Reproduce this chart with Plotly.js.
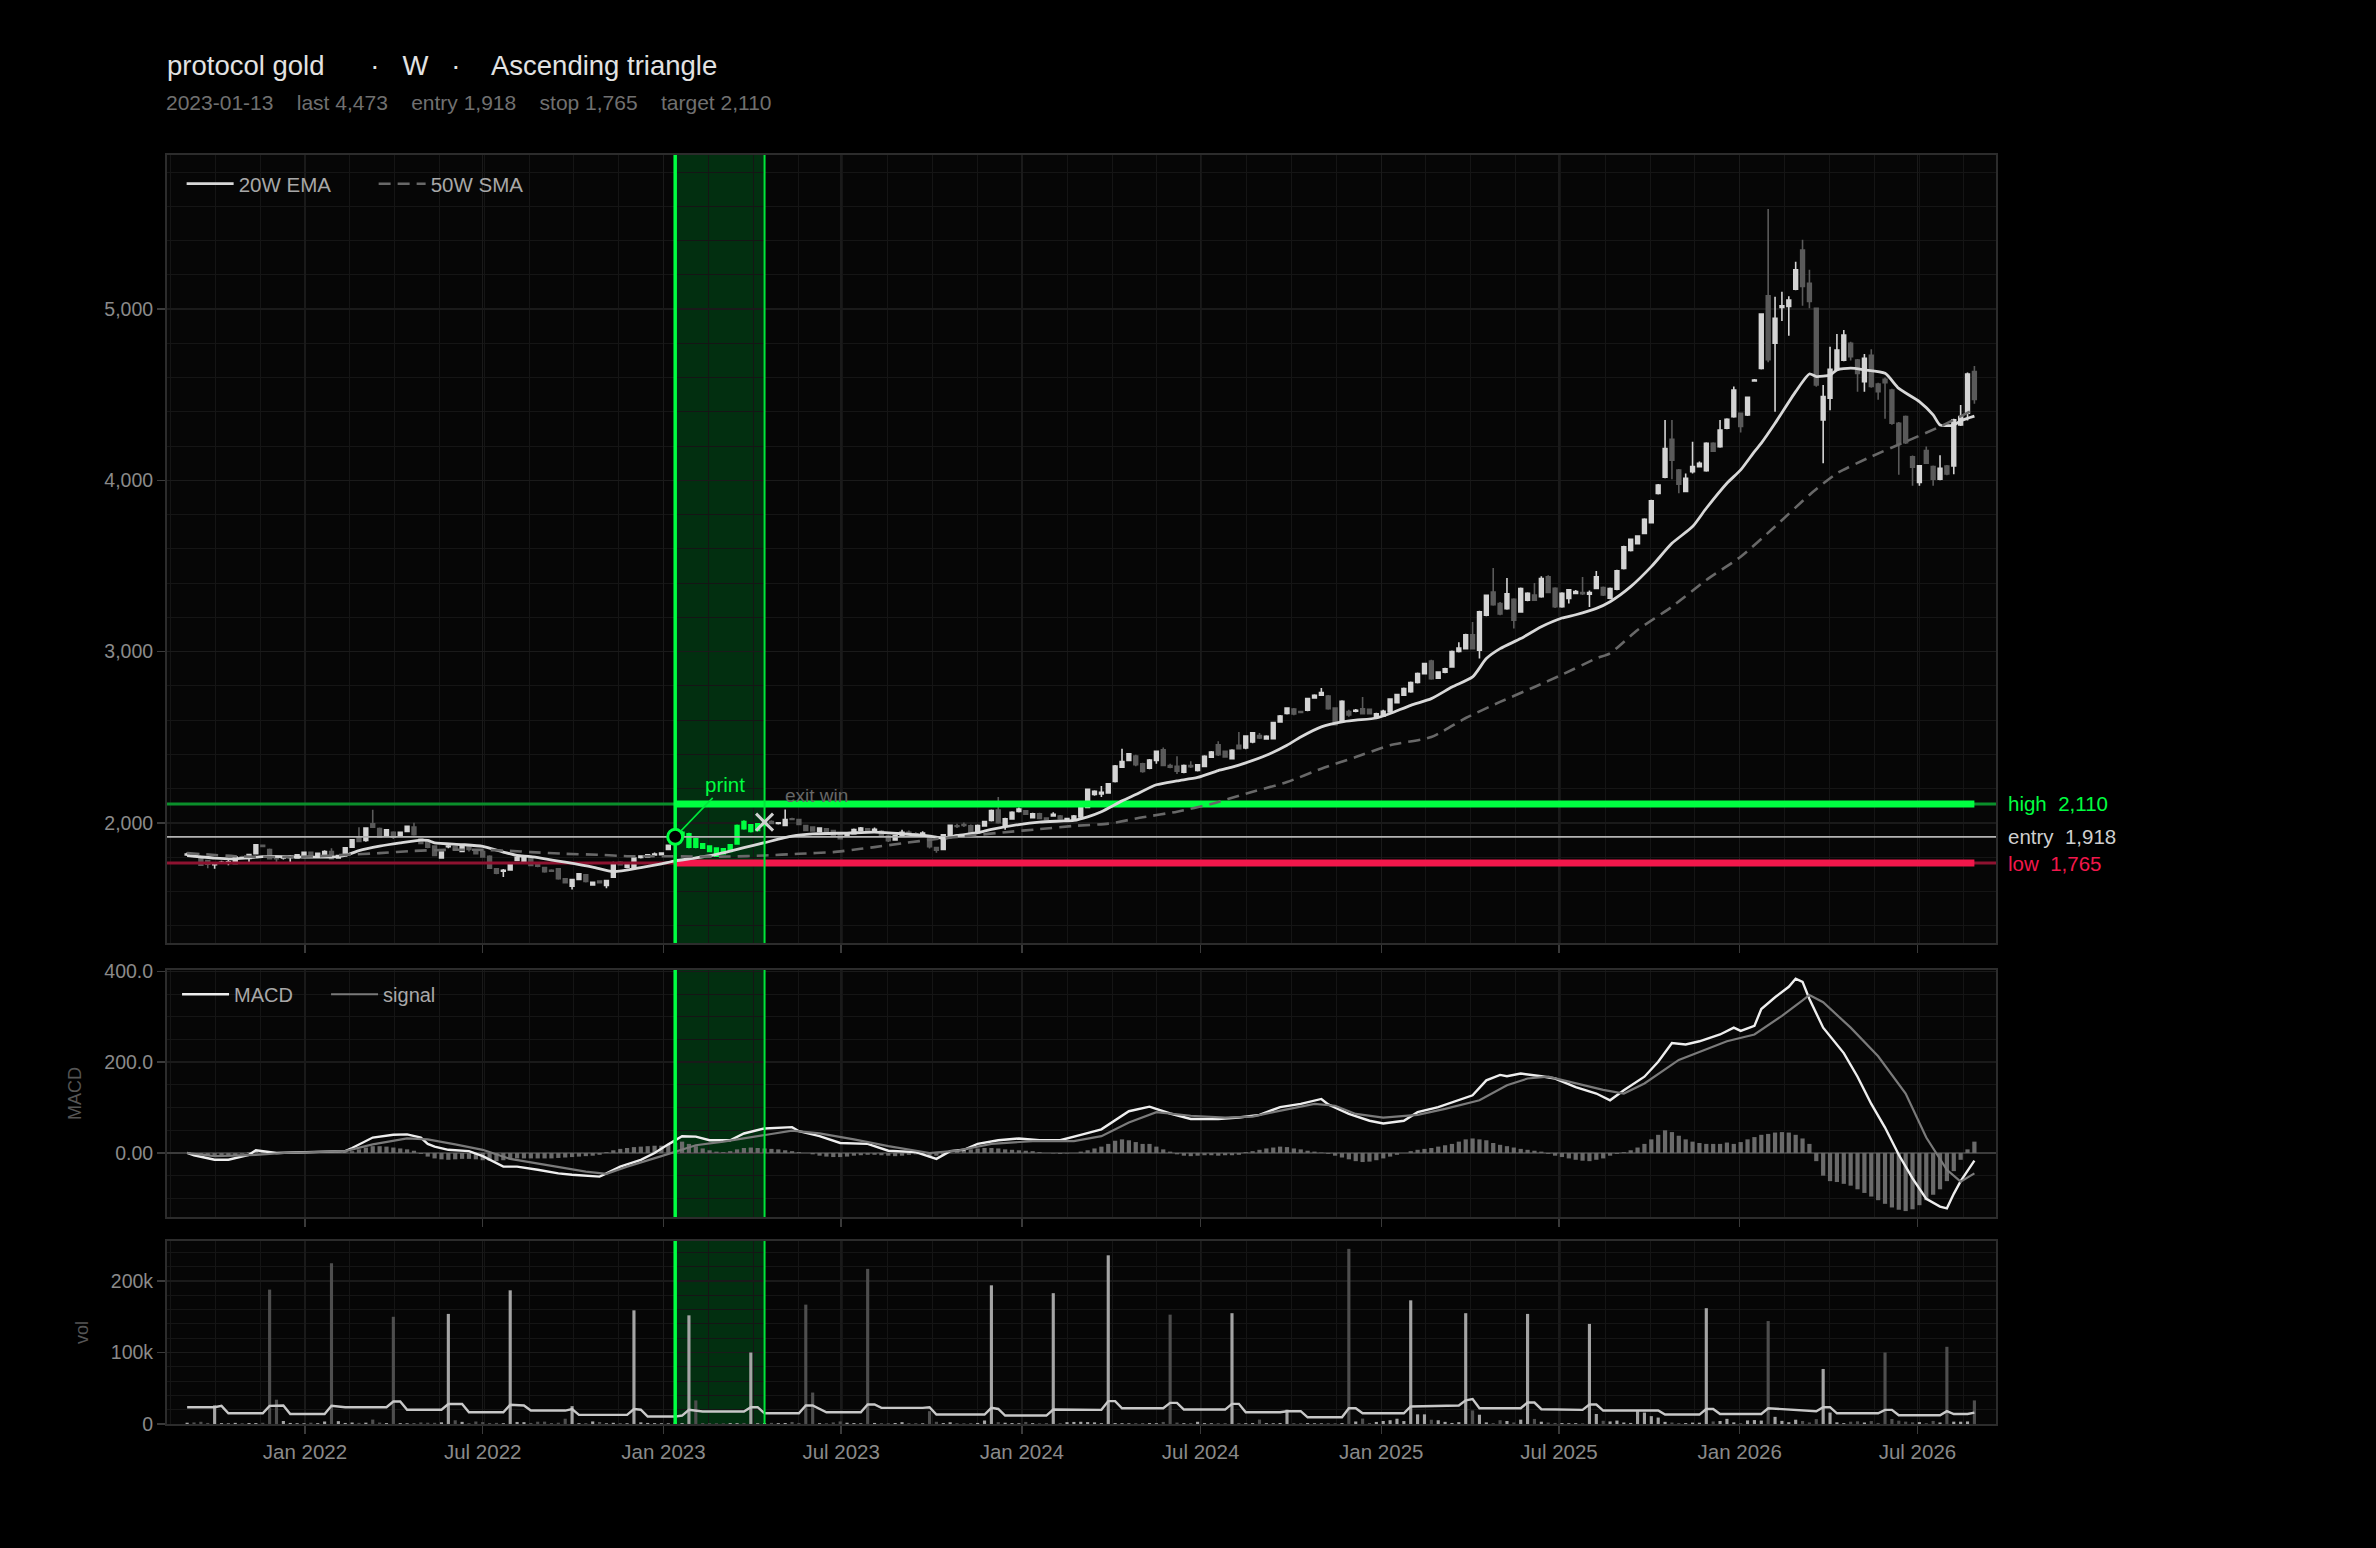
<!DOCTYPE html>
<html>
<head>
<meta charset="utf-8">
<script src="https://cdn.plot.ly/plotly-3.0.1.min.js"></script>
<style>html,body{margin:0;padding:0;background:#000;}#chart{width:2376px;height:1548px;}</style>
</head>
<body>
<div id="chart"></div>
<script>
// ---------------- DATA ----------------
const firstWeek = '2021-09-03';
const printDate = '2023-01-13';
const exitDate = '2023-04-14';
const entryPrice = 1918, stopPrice = 1765, targetPrice = 2110, exitPrice = 2004;
const symbolName = 'protocol gold', timeframe = 'W', patternName = 'Ascending triangle';

const openP = [
1812,1812,1792,1780,1755,1764,1765,1762,1802,1792,
1819,1868,1844,1803,1794,1797,1795,1809,1828,1805,
1815,1832,1794,1813,1858,1916,1897,1994,1967,1922,
1945,1922,1949,1975,1906,1887,1864,1795,1860,1862,
1832,1870,1838,1832,1805,1731,1718,1725,1780,1774,
1796,1762,1738,1722,1731,1673,1630,1669,1696,1637,
1660,1634,1683,1770,1741,1741,1798,1800,1812,1813,
1844,1895,1925,1858,1907,1877,1864,1852,1848,1833,
1877,2007,1949,1955,1984,2008,1996,1984,2023,2019,
1984,1975,1950,1965,1955,1930,1922,1936,1955,1965,
1950,1950,1922,1900,1928,1945,1936,1925,1925,1855,
1845,1925,1982,1990,1982,1942,1982,2013,2075,1984,
2023,2066,2070,2030,2052,2028,2040,2040,2015,2020,
2034,2090,2165,2168,2175,2241,2325,2364,2390,2345,
2319,2364,2426,2335,2330,2296,2335,2305,2329,2383,
2455,2418,2375,2453,2437,2472,2510,2490,2491,2589,
2638,2665,2650,2658,2729,2745,2740,2670,2593,2650,
2652,2666,2663,2618,2624,2648,2702,2745,2765,2819,
2871,2945,2845,2880,2910,3000,3017,3098,3008,3212,
3348,3280,3250,3305,3232,3300,3330,3320,3436,3370,
3262,3310,3340,3345,3335,3369,3374,3312,3364,3486,
3590,3630,3690,3753,3924,4018,4240,4060,3935,4051,
4080,4056,4216,4196,4304,4372,4391,4382,4580,4654,
5077,4801,5010,5015,5116,5345,5151,5005,4353,4479,
4648,4702,4800,4702,4576,4730,4563,4590,4528,4333,
4372,4138,3987,4174,4080,4006,4084,4084,4324,4392,
4635];
const highP = [
1826,1815,1796,1784,1766,1778,1790,1802,1808,1818,
1874,1872,1850,1806,1804,1812,1816,1832,1832,1826,
1840,1852,1812,1858,1904,1974,1972,2076,1972,1962,
1950,1948,1984,2000,1912,1892,1868,1833,1870,1866,
1874,1874,1842,1836,1810,1735,1730,1768,1805,1806,
1800,1766,1742,1728,1735,1676,1673,1706,1700,1657,
1664,1666,1772,1775,1760,1798,1810,1818,1826,1828,
1872,1935,1952,1942,1912,1882,1868,1856,1852,1876,
1990,2015,1992,1998,2018,2015,2004,2078,2030,2024,
1988,1980,1973,1970,1960,1934,1946,1966,1975,1970,
1972,1958,1930,1930,1960,1955,1945,1950,1930,1860,
1935,1990,1995,2002,1990,1990,2012,2078,2150,2030,
2068,2090,2075,2058,2058,2032,2062,2045,2030,2045,
2090,2200,2190,2215,2232,2338,2432,2408,2398,2350,
2372,2420,2440,2345,2388,2340,2360,2342,2395,2420,
2476,2422,2430,2530,2512,2530,2525,2512,2590,2630,
2675,2670,2655,2730,2750,2787,2746,2675,2715,2660,
2665,2735,2668,2642,2660,2727,2754,2790,2825,2878,
2935,2952,2885,2906,3006,3055,3104,3172,3238,3334,
3488,3290,3430,3312,3374,3346,3400,3440,3445,3376,
3346,3366,3360,3435,3356,3470,3380,3374,3478,3618,
3660,3680,3778,3886,3978,4352,4352,4066,4040,4225,
4110,4222,4222,4352,4362,4548,4396,4490,4592,4976,
5585,5072,5102,5075,5277,5405,5230,5010,4557,4780,
4855,4878,4810,4708,4738,4765,4570,4600,4535,4340,
4378,4145,4090,4197,4086,4147,4090,4360,4440,4630,
4668];
const lowP = [
1806,1798,1748,1735,1731,1760,1752,1758,1792,1764,
1815,1858,1788,1762,1785,1770,1790,1805,1796,1800,
1812,1786,1790,1810,1855,1888,1890,1970,1912,1918,
1905,1918,1945,1925,1876,1852,1805,1790,1852,1838,
1828,1832,1815,1796,1730,1700,1683,1720,1776,1770,
1748,1740,1708,1712,1668,1645,1610,1665,1652,1632,
1645,1618,1678,1750,1735,1736,1792,1796,1808,1810,
1840,1880,1920,1852,1852,1848,1828,1800,1815,1828,
1872,1960,1944,1950,1980,1992,1990,1980,2016,1986,
1950,1948,1946,1940,1922,1902,1918,1932,1950,1945,
1945,1918,1888,1895,1920,1930,1920,1918,1850,1825,
1840,1920,1970,1975,1940,1938,1978,2008,1995,1960,
2018,2060,2045,2025,2020,2015,2035,2015,2008,2015,
2028,2085,2158,2150,2170,2236,2320,2360,2330,2292,
2312,2345,2330,2318,2285,2290,2320,2300,2325,2378,
2390,2380,2370,2428,2430,2465,2490,2485,2486,2584,
2632,2628,2640,2652,2724,2740,2660,2568,2588,2620,
2645,2632,2632,2612,2618,2643,2697,2740,2760,2814,
2866,2835,2840,2874,2905,2995,3012,3012,2960,3206,
3268,3212,3244,3134,3226,3294,3295,3314,3340,3255,
3256,3280,3335,3330,3260,3364,3325,3306,3358,3480,
3585,3625,3685,3748,3918,4012,4007,3925,3930,4040,
4075,4050,4165,4190,4298,4366,4280,4376,4576,4648,
4690,4400,4930,4845,5110,5020,5005,4547,4100,4410,
4640,4695,4700,4518,4518,4540,4470,4360,4325,4032,
4212,3968,3968,4095,3968,4000,4030,4036,4318,4350,
4447];
const closeP = [
1818,1803,1752,1758,1760,1770,1772,1800,1796,1815,
1871,1862,1790,1790,1800,1805,1813,1828,1800,1822,
1832,1790,1808,1854,1900,1891,1969,1975,1916,1959,
1916,1945,1979,1930,1880,1858,1809,1829,1864,1843,
1870,1845,1819,1800,1735,1706,1722,1764,1798,1803,
1751,1747,1714,1718,1673,1650,1669,1702,1657,1653,
1650,1663,1766,1755,1755,1794,1806,1813,1817,1823,
1868,1918,1945,1936,1858,1852,1833,1805,1819,1872,
1984,1965,1988,1994,2013,1996,2000,2019,2020,1990,
1955,1952,1969,1945,1926,1907,1941,1961,1969,1950,
1962,1925,1895,1925,1945,1938,1930,1940,1860,1840,
1930,1985,1978,1984,1945,1984,2008,2072,2000,2023,
2062,2080,2050,2052,2025,2020,2050,2022,2025,2040,
2087,2195,2184,2178,2228,2331,2358,2403,2339,2300,
2366,2417,2335,2325,2301,2335,2328,2338,2389,2413,
2398,2385,2423,2433,2507,2525,2495,2505,2585,2624,
2670,2636,2645,2725,2745,2760,2666,2573,2710,2630,
2657,2637,2637,2637,2651,2722,2749,2784,2819,2872,
2930,2842,2880,2900,3000,3020,3098,3017,3232,3328,
3274,3220,3338,3183,3368,3340,3300,3427,3345,3262,
3340,3360,3350,3338,3345,3437,3330,3368,3472,3612,
3655,3675,3772,3880,3973,4186,4118,3978,4012,4080,
4100,4216,4170,4293,4356,4528,4314,4485,4585,4971,
4704,4946,5020,5053,5229,5132,5044,4557,4489,4648,
4761,4848,4722,4624,4713,4548,4518,4570,4333,4216,
4220,4076,4085,4100,4006,4070,4037,4353,4372,4621,
4473];
const volume = [
1800,2200,3100,1500,26000,1200,900,1600,1100,1400,
1300,1700,188000,34000,4200,1500,1100,1000,1800,1200,
3500,225000,4000,1500,2100,1600,1900,6200,2000,1300,
150000,1200,1000,1400,2200,1800,1700,2400,154000,5200,
3000,1200,3500,2700,1300,1600,1100,187000,2900,2600,
1500,3200,3300,1400,1800,7400,25000,1200,1300,3600,
2800,1000,1700,1400,1100,159000,2300,1500,1200,1000,
900,2100,1300,152000,33000,1400,1200,1100,1000,1300,
1200,1500,100000,1100,1300,1600,1200,1400,2900,1500,
167000,44000,1200,1100,2300,3600,1800,1300,1000,217000,
1500,1200,1100,1400,2600,1300,1200,1000,18000,3100,
1300,2400,1200,1000,1300,1500,4900,194000,2600,1800,
1300,1100,2900,1200,1000,1300,183000,1200,2600,2900,
3100,2700,2300,1200,236000,1300,1100,1000,1200,1400,
1300,1100,2900,153000,2000,1100,1300,3100,1200,1000,
1200,1300,155000,1400,1100,1300,6200,1200,1000,1400,
20000,1200,1100,1300,1000,900,1200,1100,1300,245000,
3500,7600,1400,2900,4200,5300,7400,4100,173000,13500,
13500,6000,5200,3000,1500,2600,155000,19000,13000,2300,
1200,5300,4200,2200,6100,154000,7100,3200,2000,1500,
1300,1100,1200,1000,140000,14000,4500,3600,4800,2100,
1500,18000,16000,11000,9000,3000,2100,1400,1300,2000,
1800,162000,3600,4200,7200,2300,1200,5000,5500,4800,
144000,10000,4400,2500,6000,4200,2200,6800,77000,16000,
2400,1200,3200,3800,2100,4100,1500,100000,7000,4600,
3300,2400,2600,1200,4300,2200,108000,3300,3200,3600,
33000];
const macdHist = [
0,-3,-5,-7,-8,-8,-7,-5,-2,2,
5,5,3,1,0,0,0,0,0,0,
1,1,1,2,4,8,12,15,15,14,
12,10,8,5,-2,-8,-12,-14,-15,-14,
-13,-13,-14,-16,-17,-18,-16,-14,-12,-12,
-12,-12,-12,-12,-11,-10,-9,-8,-7,-6,
-4,2,6,9,11,13,14,15,16,16,
18,22,25,20,15,10,6,3,2,4,
8,11,12,11,10,9,8,6,4,2,
0,-3,-6,-8,-9,-9,-8,-6,-5,-4,
-4,-5,-6,-7,-6,-4,-3,-4,-8,-6,
-4,0,3,6,8,10,11,11,10,8,
7,6,5,4,2,0,-1,-2,-1,0,
3,6,10,14,20,27,30,28,24,20,
20,14,8,3,-3,-6,-7,-6,-5,-5,
-6,-5,-5,-4,2,4,7,10,12,14,
13,10,8,5,3,1,-2,-6,-10,-14,
-18,-20,-19,-16,-12,-8,-4,0,4,7,
9,11,14,17,20,25,30,32,30,28,
22,18,15,12,9,7,5,3,-2,-6,
-9,-12,-15,-17,-18,-15,-12,-6,-2,2,
6,12,20,30,40,50,46,38,30,25,
22,20,20,20,23,20,24,30,35,40,
42,45,46,45,40,32,20,-18,-50,-62,
-64,-68,-72,-80,-88,-96,-104,-112,-120,-125,
-128,-124,-115,-104,-92,-80,-62,-40,-15,8,
25];
// line series read at sampled weeks (week number since first candle, value)
const macdWeek = [0,1,4,6,9,10,13,17,20,23,24,27,30,32,34,35,36,38,41,43,46,48,51,54,56,58,60,61,63,66,68,70,72,74,76,79,81,84,86,88,89,92,95,99,102,106,109,111,113,115,118,121,124,127,130,133,137,140,143,146,150,153,156,159,162,165,166,169,172,174,177,179,182,185,187,189,191,192,194,197,199,202,205,207,209,212,214,216,218,220,223,225,226,228,229,231,233,234,235,236,238,241,243,245,247,249,251,253,255,256,257,258,259,260];
const macdLine = [0,-5,-15,-15,-4,6,0,2,4,4,11,34,40,41,34,20,14,7,4,-7,-30,-30,-37,-45,-48,-50,-52,-45,-30,-15,0,19,37,36,28,28,43,54,56,57,48,37,22,20,5,2,-13,4,7,20,28,32,28,28,40,52,92,102,87,75,75,78,84,101,108,119,107,86,71,65,71,90,101,116,127,160,172,169,175,169,164,145,131,116,138,168,201,242,239,246,261,276,269,280,317,343,366,384,377,339,276,220,168,108,56,-4,-56,-101,-118,-122,-90,-62,-40,-17];
const signalWeek = [0,4,10,14,23,27,32,35,39,43,47,52,58,61,64,69,74,78,83,88,92,97,102,108,112,117,123,129,133,137,141,146,151,155,158,164,167,170,174,179,183,188,192,195,198,202,206,209,212,217,221,224,228,232,235,236,238,242,246,250,253,256,258,260];
const signalLine = [0,-7,-4,0,4,19,32,30,19,7,-13,-26,-41,-46,-30,-7,17,25,37,49,43,30,15,0,5,20,26,26,37,67,90,82,78,80,90,108,104,86,78,84,97,116,149,164,168,154,139,131,153,205,228,246,261,302,336,348,332,276,213,131,34,-37,-63,-45];
const emaWeek = [0,4,7,11,14,17,21,23,25,28,31,34,35,36,40,43,46,48,50,55,59,62,66,69,71,74,77,79,81,84,88,91,96,100,104,108,110,112,115,117,121,124,127,129,131,133,136,138,141,144,147,150,152,154,157,160,162,165,168,170,173,175,178,181,184,187,189,191,194,197,200,202,205,207,210,213,216,219,221,224,226,228,229,231,234,236,237,239,240,242,244,247,249,252,254,255,257,258,260];
const emaLine = [1809,1794,1790,1803,1803,1800,1800,1809,1838,1864,1883,1899,1897,1883,1873,1862,1829,1809,1803,1770,1741,1714,1738,1760,1778,1795,1815,1834,1855,1884,1922,1935,1940,1945,1936,1922,1910,1926,1942,1961,1990,2004,2010,2014,2035,2065,2128,2165,2222,2245,2265,2305,2325,2350,2394,2453,2501,2560,2589,2599,2612,2638,2686,2725,2793,2852,2959,3017,3076,3145,3196,3215,3252,3291,3379,3496,3632,3730,3837,3983,4061,4168,4217,4333,4518,4621,4606,4615,4645,4655,4645,4625,4537,4460,4382,4323,4323,4348,4375];
const smaWeek = [0,7,14,18,23,28,33,38,43,47,50,55,60,64,69,74,79,84,89,94,98,100,104,109,114,119,124,129,134,139,144,149,154,160,165,170,175,181,186,191,196,200,205,207,211,216,221,226,231,236,240,245,250,255,260];
const smaLine = [1823,1805,1800,1803,1813,1823,1836,1842,1842,1836,1829,1819,1813,1805,1805,1803,1803,1809,1819,1829,1848,1858,1880,1905,1925,1945,1963,1982,1995,2032,2065,2110,2170,2238,2316,2384,2453,2501,2612,2706,2793,2865,2960,2990,3126,3262,3418,3554,3730,3915,4041,4139,4226,4314,4415];
const volMaWeek = [0,4,5,6,11,12,14,15,20,21,23,29,30,31,32,37,38,40,41,46,47,49,50,55,56,57,64,65,66,67,71,72,73,75,81,82,83,84,89,90,91,93,98,99,100,101,107,108,109,116,117,118,119,125,126,133,134,135,136,142,143,144,145,151,152,153,154,159,160,162,163,168,169,170,171,177,178,185,186,187,188,194,195,196,197,203,204,205,206,214,215,220,221,222,223,229,230,237,238,239,240,246,247,248,249,255,256,257,259,260];
const volMaLine = [23500,23500,25400,15000,15000,25400,25900,14000,14000,25400,23500,23500,31500,31500,20000,20000,28000,28000,16500,16500,26800,25900,18800,18800,21000,12700,12700,21000,20000,10400,10400,11800,19800,17400,17400,23500,23500,15000,15000,25900,25900,16500,16500,27300,27300,22600,22600,23500,13200,13200,22600,21000,11800,11800,20200,19800,32000,32000,22000,22000,29600,29600,20200,20200,28200,28200,16500,16500,17900,17900,9400,9400,22000,22000,15000,15000,24500,25900,33000,34800,22000,22000,30000,30000,20700,19800,27300,27300,18800,18800,13200,13200,21000,21000,14000,14000,22000,17900,23500,23500,15000,15000,19800,19800,12200,12200,17900,14000,14000,16000];
const macdTickVals = [0, 200, 400];
const macdTickText = ['0.00', '200.0', '400.0'];

// ---------------- BUILD ----------------
const DAY = 86400000;
const t0 = Date.parse(firstWeek + 'T00:00:00Z');
const dates = closeP.map((_, i) => new Date(t0 + i * 7 * DAY).toISOString().slice(0, 10));
const weekDates = arr => arr.map(i => dates[i]);
const lastDate = dates[dates.length - 1];
const lastClose = closeP[closeP.length - 1];
const fmt = v => v.toLocaleString('en-US');
const NB = '\u00a0';
const sp = k => NB.repeat(k);

const xRange = ['2021-08-13 12:00', '2026-09-19'];
const priceRange = [1298, 5900], macdRange = [-141, 403], volRange = [0, 256000];

const inBand = dates.map(d => d >= printDate && d <= exitDate);
function subset(flag) {
  const idx = dates.map((d, i) => i).filter(i => inBand[i] === flag);
  return {
    x: idx.map(i => dates[i]), open: idx.map(i => openP[i]), high: idx.map(i => highP[i]),
    low: idx.map(i => lowP[i]), close: idx.map(i => closeP[i])
  };
}
const mainC = subset(false), bandC = subset(true);

const UP = '#d4d4d4', DOWN = '#5a5a5a', GREEN = '#00ff41', RED = '#f2174b';
const volColors = closeP.map((c, i) => (c >= openP[i] ? '#a4a4a4' : '#4e4e4e'));

function hLine(xs, y, color, width, xa, ya) {
  return { type: 'scatter', mode: 'lines', x: xs, y: [y, y], xaxis: xa || 'x', yaxis: ya || 'y',
    showlegend: false, line: { color: color, width: width } };
}
function vLine(x, yr, color, width, xa, ya) {
  return { type: 'scatter', mode: 'lines', x: [x, x], y: yr, xaxis: xa, yaxis: ya,
    showlegend: false, line: { color: color, width: width } };
}

const traces = [
  hLine(xRange, targetPrice, '#0a8f2b', 3),
  hLine(xRange, stopPrice, '#8e1230', 3),
  hLine(xRange, entryPrice, '#b4b4b4', 1.8),
  hLine([printDate, lastDate], targetPrice, GREEN, 7),
  hLine([printDate, lastDate], stopPrice, RED, 7),
  { type: 'candlestick', x: mainC.x, open: mainC.open, high: mainC.high, low: mainC.low, close: mainC.close,
    xaxis: 'x', yaxis: 'y', showlegend: false, whiskerwidth: 0,
    increasing: { line: { color: UP, width: 1.6 }, fillcolor: UP },
    decreasing: { line: { color: DOWN, width: 1.6 }, fillcolor: DOWN } },
  { type: 'candlestick', x: bandC.x, open: bandC.open, high: bandC.high, low: bandC.low, close: bandC.close,
    xaxis: 'x', yaxis: 'y', showlegend: false, whiskerwidth: 0,
    increasing: { line: { color: GREEN, width: 1.6 }, fillcolor: GREEN },
    decreasing: { line: { color: GREEN, width: 1.6 }, fillcolor: GREEN } },
  { type: 'scatter', mode: 'lines', name: '20W EMA', x: weekDates(emaWeek), y: emaLine, xaxis: 'x', yaxis: 'y',
    line: { color: '#d8d8d8', width: 2.8, shape: 'spline', smoothing: 0.6 }, legend: 'legend' },
  { type: 'scatter', mode: 'lines', name: '50W SMA', x: weekDates(smaWeek), y: smaLine, xaxis: 'x', yaxis: 'y',
    line: { color: '#686868', width: 2.6, dash: '12px,7px', shape: 'spline', smoothing: 0.6 }, legend: 'legend' },
  vLine(printDate, priceRange, GREEN, 3.5, 'x', 'y'),
  vLine(exitDate, priceRange, '#00e63a', 2, 'x', 'y'),
  { type: 'scatter', mode: 'markers', x: [printDate], y: [entryPrice], xaxis: 'x', yaxis: 'y', showlegend: false,
    marker: { symbol: 'circle', size: 15, color: '#000', line: { color: GREEN, width: 3 } } },
  { type: 'scatter', mode: 'markers', x: [exitDate], y: [exitPrice], xaxis: 'x', yaxis: 'y', showlegend: false,
    marker: { symbol: 'x-thin', size: 17, color: '#d0d0d0', line: { color: '#d0d0d0', width: 3 } } },
  { type: 'bar', x: dates, y: macdHist, xaxis: 'x2', yaxis: 'y2', showlegend: false,
    marker: { color: '#6a6a6a', line: { width: 0 } }, width: 4.3 * DAY },
  { type: 'scatter', mode: 'lines', name: 'MACD', x: weekDates(macdWeek), y: macdLine, xaxis: 'x2', yaxis: 'y2',
    line: { color: '#eeeeee', width: 2.4 }, legend: 'legend2' },
  { type: 'scatter', mode: 'lines', name: 'signal', x: weekDates(signalWeek), y: signalLine, xaxis: 'x2', yaxis: 'y2',
    line: { color: '#7a7a7a', width: 2.2 }, legend: 'legend2' },
  vLine(printDate, macdRange, GREEN, 3.5, 'x2', 'y2'),
  vLine(exitDate, macdRange, '#00e63a', 2, 'x2', 'y2'),
  { type: 'bar', x: dates, y: volume, xaxis: 'x3', yaxis: 'y3', showlegend: false,
    marker: { color: volColors, line: { width: 0 } }, width: 3.2 * DAY },
  { type: 'scatter', mode: 'lines', x: weekDates(volMaWeek), y: volMaLine, xaxis: 'x3', yaxis: 'y3', showlegend: false,
    line: { color: '#c8c8c8', width: 2.4 } },
  vLine(printDate, volRange, GREEN, 3.5, 'x3', 'y3'),
  vLine(exitDate, volRange, '#00e63a', 2, 'x3', 'y3')
];

const FONT = 'Liberation Sans, Arial, Helvetica, sans-serif';
const gridC = '#1a1a1a', minorC = '#151515', lineC = '#2c2c2c', tickC = '#8a8a8a';
const minorMs = 365.25 / 8 * DAY;
function xAxis(extra) {
  return Object.assign({
    type: 'date', range: xRange, dtick: 'M6', tick0: '2022-01-01', tickformat: '%b %Y',
    showgrid: true, gridcolor: gridC, gridwidth: 1.5,
    minor: { dtick: minorMs, tick0: '2022-01-01', showgrid: true, gridcolor: minorC, gridwidth: 1 },
    showline: true, mirror: true, linecolor: lineC, linewidth: 2,
    ticks: 'outside', ticklen: 8, tickwidth: 1.5, tickcolor: '#3a3a3a',
    zeroline: false, tickfont: { size: 20.5, color: tickC, family: FONT }, fixedrange: true
  }, extra);
}
function yAxis(extra) {
  return Object.assign({
    showgrid: true, gridcolor: gridC, gridwidth: 1.5,
    showline: true, mirror: true, linecolor: lineC, linewidth: 2,
    ticks: 'outside', ticklen: 8, tickwidth: 1.5, tickcolor: '#3a3a3a',
    zeroline: false, tickfont: { size: 19.5, color: tickC, family: FONT }, fixedrange: true
  }, extra);
}

const shapes = [];
[['x', 'y domain'], ['x2', 'y2 domain'], ['x3', 'y3 domain']].forEach(([xr, yr]) => {
  shapes.push({ type: 'rect', xref: xr, yref: yr, x0: printDate, x1: exitDate, y0: 0, y1: 1,
    fillcolor: '#022f10', line: { width: 0 }, layer: 'below' });
});

const annotations = [
  { xref: 'paper', yref: 'paper', x: 0, y: (1424 - 103) / 1269, xanchor: 'left', yanchor: 'middle', showarrow: false,
    xshift: -3,
    text: printDate + sp(4) + 'last ' + fmt(lastClose) + sp(4) + 'entry ' + fmt(entryPrice) + sp(4) +
      'stop ' + fmt(stopPrice) + sp(4) + 'target ' + fmt(targetPrice),
    font: { size: 21, color: '#707070', family: FONT } },
  { xref: 'x', yref: 'y', x: printDate, y: entryPrice, text: 'print', showarrow: true, arrowhead: 0,
    arrowwidth: 1.6, arrowcolor: '#00e63a', ax: 50, ay: -52, standoff: 8,
    font: { size: 20.5, color: GREEN, family: FONT } },
  { xref: 'x', yref: 'y', x: exitDate, y: exitPrice, text: 'exit win', showarrow: false, xshift: 52, yshift: 27,
    font: { size: 19, color: '#686868', family: FONT } },
  { xref: 'paper', yref: 'y', x: 1, y: targetPrice, xanchor: 'left', xshift: 10, showarrow: false,
    text: 'high' + sp(2) + fmt(targetPrice), font: { size: 20.5, color: GREEN, family: FONT } },
  { xref: 'paper', yref: 'y', x: 1, y: entryPrice, xanchor: 'left', xshift: 10, showarrow: false,
    text: 'entry' + sp(2) + fmt(entryPrice), font: { size: 20.5, color: '#cfcfcf', family: FONT } },
  { xref: 'paper', yref: 'y', x: 1, y: stopPrice, xanchor: 'left', xshift: 10, showarrow: false,
    text: 'low' + sp(2) + fmt(stopPrice), font: { size: 20.5, color: RED, family: FONT } }
];

const layout = {
  width: 2376, height: 1548,
  paper_bgcolor: '#000000', plot_bgcolor: '#060606',
  font: { family: FONT, color: '#9a9a9a' },
  margin: { l: 167, r: 380, t: 155, b: 124 },
  hovermode: false, dragmode: false, boxgap: 0.22,
  title: { text: symbolName + sp(6) + '·' + sp(3) + timeframe + sp(3) + '·' + sp(4) + patternName,
    x: 0, xref: 'paper', xanchor: 'left', y: 1 - 65 / 1548, yref: 'container', yanchor: 'middle',
    font: { size: 27.5, color: '#e2e2e2', family: FONT } },
  xaxis: xAxis({ anchor: 'y', showticklabels: false, rangeslider: { visible: false } }),
  xaxis2: xAxis({ anchor: 'y2', matches: 'x', showticklabels: false }),
  xaxis3: xAxis({ anchor: 'y3', matches: 'x', showticklabels: true }),
  yaxis: yAxis({ domain: [(1424 - 943) / 1269, 1], range: priceRange, dtick: 1000, tick0: 0, tickformat: ',d',
    minor: { dtick: 200, showgrid: true, gridcolor: minorC, gridwidth: 1 } }),
  yaxis2: yAxis({ domain: [(1424 - 1217) / 1269, (1424 - 970) / 1269], range: macdRange,
    tickmode: 'array', tickvals: macdTickVals, ticktext: macdTickText,
    minor: { dtick: 50, tick0: 0, showgrid: true, gridcolor: minorC, gridwidth: 1 },
    zeroline: true, zerolinecolor: '#3c3c3c', zerolinewidth: 2,
    title: { text: 'MACD', font: { size: 18, color: '#555555', family: FONT }, standoff: 18 } }),
  yaxis3: yAxis({ domain: [0, (1424 - 1241) / 1269], range: volRange, dtick: 100000, tickformat: '~s',
    minor: { dtick: 20000, showgrid: true, gridcolor: minorC, gridwidth: 1 },
    title: { text: 'vol', font: { size: 18, color: '#555555', family: FONT }, standoff: 18 } }),
  legend: { x: 0.008, y: 0.993, xanchor: 'left', yanchor: 'top', orientation: 'h', bgcolor: 'rgba(0,0,0,0)',
    font: { size: 20.5, color: '#a8a8a8', family: FONT }, entrywidth: 130, itemwidth: 47 },
  legend2: { x: 0.0055, y: 0.354, xanchor: 'left', yanchor: 'top', orientation: 'h', bgcolor: 'rgba(0,0,0,0)',
    font: { size: 20, color: '#a8a8a8', family: FONT }, entrywidth: 87, itemwidth: 47 },
  shapes: shapes,
  annotations: annotations,
  showlegend: true
};

Plotly.newPlot('chart', traces, layout, { staticPlot: true, displayModeBar: false });
</script>
</body>
</html>
